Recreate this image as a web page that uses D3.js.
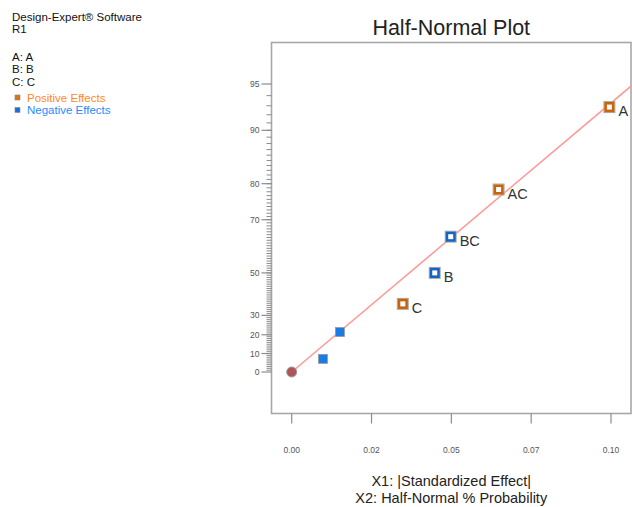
<!DOCTYPE html>
<html>
<head>
<meta charset="utf-8">
<script src="https://cdn.jsdelivr.net/npm/d3@7"></script>
<style>
  body { margin: 0; background: #fff; }
  svg { display: block; font-family: "Liberation Sans", Arial, sans-serif; }
</style>
</head>
<body>
<svg id="chart" width="632" height="507"></svg>
<script>
// ---------------- data ----------------
const effectNames   = ["", "", "C", "B", "BC", "AC", "A"];
const effectValues  = [0.0098, 0.0151, 0.0348, 0.0448, 0.0498, 0.0648, 0.0995];
const halfNormalPct = [7.14, 21.43, 35.71, 50.0, 64.29, 78.57, 92.86];
const effectSigns   = ["neg", "neg", "pos", "neg", "neg", "pos", "pos"];
const effectChosen  = [false, false, true, true, true, true, true];
const originPoint   = [0, 0];           // effect, % probability
const fitLineEffect = [0, 0.12];
const fitLinePct    = [0, 97.2];
const xTickValues   = [0, 0.025, 0.05, 0.075, 0.1];
const xTickLabels   = ["0.00", "0.02", "0.05", "0.07", "0.10"];
const yMajorTicks   = [0, 10, 20, 30, 50, 70, 80, 90, 95];
const yMinorTicks   = d3.range(1, 95);
const headerLines   = ["Design-Expert\u00AE Software", "R1"];
const factorLines   = ["A: A", "B: B", "C: C"];

// ---------------- helpers ----------------
// inverse standard normal CDF (Acklam)
function probit(p) {
  const a = [-3.969683028665376e+01, 2.209460984245205e+02, -2.759285104469687e+02, 1.383577518672690e+02, -3.066479806614716e+01, 2.506628277459239e+00];
  const b = [-5.447609879822406e+01, 1.615858368580409e+02, -1.556989798598866e+02, 6.680131188771972e+01, -1.328068155288572e+01];
  const c = [-7.784894002430293e-03, -3.223964580411365e-01, -2.400758277161838e+00, -2.549732539343734e+00, 4.374664141464968e+00, 2.938163982698783e+00];
  const d = [7.784695709041462e-03, 3.224671290700398e-01, 2.445134137142996e+00, 3.754408661907416e+00];
  const pl = 0.02425, ph = 1 - pl;
  let q, r;
  if (p < pl) { q = Math.sqrt(-2 * Math.log(p)); return (((((c[0]*q+c[1])*q+c[2])*q+c[3])*q+c[4])*q+c[5]) / ((((d[0]*q+d[1])*q+d[2])*q+d[3])*q+1); }
  if (p <= ph) { q = p - 0.5; r = q*q; return (((((a[0]*r+a[1])*r+a[2])*r+a[3])*r+a[4])*r+a[5])*q / (((((b[0]*r+b[1])*r+b[2])*r+b[3])*r+b[4])*r+1); }
  q = Math.sqrt(-2 * Math.log(1 - p)); return -(((((c[0]*q+c[1])*q+c[2])*q+c[3])*q+c[4])*q+c[5]) / ((((d[0]*q+d[1])*q+d[2])*q+d[3])*q+1);
}
const halfZ = pct => probit(0.5 + pct / 200);

// ---------------- layout ----------------
const svg = d3.select("#chart");
const frame = { left: 271.5, right: 631, top: 42.5, bottom: 413.5 };

const x = d3.scaleLinear().domain([0, 0.1]).range([291.7, 611]);
const zScale = d3.scaleLinear().domain([0, 1.96]).range([372, 84]);
const y = pct => zScale(halfZ(pct));

const gray = "#8c8c8c";

// frame
svg.append("rect")
  .attr("x", frame.left).attr("y", frame.top)
  .attr("width", frame.right - frame.left).attr("height", frame.bottom - frame.top)
  .attr("fill", "none").attr("stroke", "#a8a8a8").attr("stroke-width", 1.6);

svg.append("clipPath").attr("id", "clip")
  .append("rect").attr("x", frame.left).attr("y", frame.top)
  .attr("width", frame.right - frame.left).attr("height", frame.bottom - frame.top);

// y axis ticks
const yAxisG = svg.append("g");
yAxisG.selectAll("line.minor").data(yMinorTicks).join("line")
  .attr("x1", frame.left - 5).attr("x2", frame.left)
  .attr("y1", d => y(d)).attr("y2", d => y(d))
  .attr("stroke", gray).attr("stroke-width", 1);
yAxisG.selectAll("line.major").data(yMajorTicks).join("line")
  .attr("x1", frame.left - 10).attr("x2", frame.left)
  .attr("y1", d => y(d)).attr("y2", d => y(d))
  .attr("stroke", gray).attr("stroke-width", 1.2);
yAxisG.selectAll("text").data(yMajorTicks).join("text")
  .attr("x", frame.left - 12).attr("y", d => y(d) + 3)
  .attr("text-anchor", "end").attr("font-size", 8.5).attr("fill", "#555")
  .text(d => d);

// x axis ticks
const xAxisG = svg.append("g");
xAxisG.selectAll("line").data(xTickValues).join("line")
  .attr("x1", d => x(d)).attr("x2", d => x(d))
  .attr("y1", frame.bottom).attr("y2", frame.bottom + 10)
  .attr("stroke", gray).attr("stroke-width", 1.2);
xAxisG.selectAll("text").data(xTickValues).join("text")
  .attr("x", d => x(d)).attr("y", frame.bottom + 39)
  .attr("text-anchor", "middle").attr("font-size", 8.5).attr("fill", "#555")
  .text((d, i) => xTickLabels[i]);

// fit line
const linePts = fitLineEffect.map((e, i) => [x(e), y(fitLinePct[i])]);
svg.append("path")
  .attr("clip-path", "url(#clip)")
  .attr("d", d3.line()(linePts))
  .attr("stroke", "#ff9a9a").attr("stroke-width", 1.6).attr("fill", "none");

// origin point
svg.append("circle")
  .attr("cx", x(originPoint[0])).attr("cy", y(originPoint[1])).attr("r", 5)
  .attr("fill", "#b05555").attr("stroke", "#999").attr("stroke-width", 1);

// effect points
const pts = effectValues.map((v, i) => ({
  v, p: halfNormalPct[i], name: effectNames[i], sign: effectSigns[i], chosen: effectChosen[i]
}));
const pg = svg.append("g");
pts.forEach(d => {
  const cx = x(d.v), cy = y(d.p);
  const col = d.sign === "pos" ? "#c8640a" : "#1663c0";
  if (d.chosen) {
    pg.append("rect").attr("x", cx - 5.5).attr("y", cy - 5.5).attr("width", 11).attr("height", 11)
      .attr("fill", "none").attr("stroke", "#aaa").attr("stroke-width", 1);
    pg.append("rect").attr("x", cx - 3.8).attr("y", cy - 3.8).attr("width", 7.6).attr("height", 7.6)
      .attr("fill", "#fff").attr("stroke", col).attr("stroke-width", 2.6);
    pg.append("text").attr("x", cx + 9).attr("y", cy + 9)
      .attr("font-size", 14.5).attr("fill", "#333").text(d.name);
  } else {
    pg.append("rect").attr("x", cx - 4.5).attr("y", cy - 4.5).attr("width", 9).attr("height", 9)
      .attr("fill", "#1a7ae6").attr("stroke", "#999").attr("stroke-width", 0.8);
  }
});

// title
svg.append("text").attr("x", (frame.left + frame.right) / 2).attr("y", 35)
  .attr("text-anchor", "middle").attr("font-size", 21.5).attr("fill", "#222")
  .text("Half-Normal Plot");

// axis titles
svg.append("text").attr("x", (frame.left + frame.right) / 2).attr("y", 486)
  .attr("text-anchor", "middle").attr("font-size", 14.5).attr("fill", "#222")
  .text("X1: |Standardized Effect|");
svg.append("text").attr("x", (frame.left + frame.right) / 2).attr("y", 503)
  .attr("text-anchor", "middle").attr("font-size", 14.5).attr("fill", "#222")
  .text("X2: Half-Normal % Probability");

// top-left info
const info = svg.append("g");
info.selectAll("text.h").data(headerLines).join("text")
  .attr("x", 12).attr("y", (d, i) => 21 + i * 12)
  .attr("font-size", 11.5).attr("fill", "#111")
  .text(d => d);
info.selectAll("text.f").data(factorLines).join("text")
  .attr("x", 12).attr("y", (d, i) => 61 + i * 12.3)
  .attr("font-size", 11.5).attr("fill", "#111")
  .text(d => d);
const legendItems = [
  { label: "Positive Effects", fill: "#d9731a", text: "#ff8a1e" },
  { label: "Negative Effects", fill: "#1a6fd6", text: "#1e8cff" }
];
legendItems.forEach((d, i) => {
  const yy = 101.5 + i * 12.5;
  info.append("rect").attr("x", 15).attr("y", yy - 6.5).attr("width", 5).attr("height", 5)
    .attr("fill", d.fill).attr("stroke", "#888").attr("stroke-width", 0.6);
  info.append("text").attr("x", 27).attr("y", yy).attr("font-size", 11.5).attr("fill", d.text).text(d.label);
});
</script>
</body>
</html>
